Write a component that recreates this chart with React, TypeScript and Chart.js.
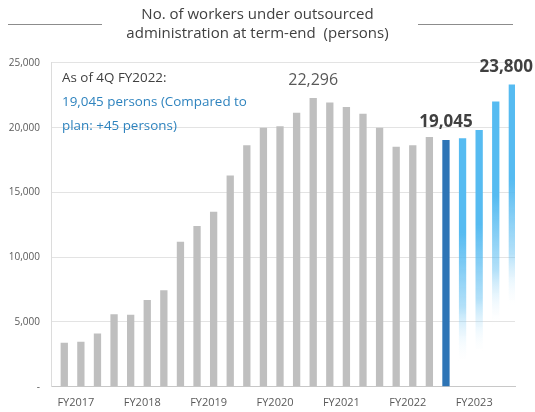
import React, { useEffect, useRef } from 'react';
import { Chart, registerables } from 'chart.js';

Chart.register(...registerables);

const FONT = '"Open Sans", "Noto Sans", sans-serif';

const quarters = [
  '1Q FY2017', '2Q FY2017', '3Q FY2017', '4Q FY2017',
  '1Q FY2018', '2Q FY2018', '3Q FY2018', '4Q FY2018',
  '1Q FY2019', '2Q FY2019', '3Q FY2019', '4Q FY2019',
  '1Q FY2020', '2Q FY2020', '3Q FY2020', '4Q FY2020',
  '1Q FY2021', '2Q FY2021', '3Q FY2021', '4Q FY2021',
  '1Q FY2022', '2Q FY2022', '3Q FY2022', '4Q FY2022',
  '1Q FY2023', '2Q FY2023', '3Q FY2023', '4Q FY2023',
];

const workers = [
  3400, 3480, 4100, 5600,
  5550, 6700, 7450, 11200,
  12400, 13500, 16300, 18650,
  20000, 20100, 21150, 22296,
  21950, 21600, 21080, 20000,
  18520, 18650, 19270, 19045,
  19190, 19810, 22020, 23330,
];

// 'actual' = results, 'latest' = 4Q FY2022 result, 'plan' = FY2023 plan
const barKinds = [
  'actual', 'actual', 'actual', 'actual',
  'actual', 'actual', 'actual', 'actual',
  'actual', 'actual', 'actual', 'actual',
  'actual', 'actual', 'actual', 'actual',
  'actual', 'actual', 'actual', 'actual',
  'actual', 'actual', 'actual', 'latest',
  'plan', 'plan', 'plan', 'plan',
];

const xTickLabels = ['FY2017', 'FY2018', 'FY2019', 'FY2020', 'FY2021', 'FY2022', 'FY2023'];

const calloutIndices = [15, 23, 27];
const calloutTexts = ['22,296', '19,045', '23,800'];
const calloutBold = [false, true, true];

const titleLines = ['No. of workers under outsourced', 'administration at term-end  (persons)'];
const noteLines = ['As of 4Q FY2022:', '19,045 persons (Compared to', 'plan: +45 persons)'];

const GRAY = '#bfbfbf';
const DARK_BLUE = '#2e75b6';
const LIGHT_BLUE = '#56bbf1';

export default function App() {
  const canvasRef = useRef<HTMLCanvasElement | null>(null);

  useEffect(() => {
    if (!canvasRef.current) return;

    const decorPlugin = {
      id: 'decor',
      afterDraw(chart: any) {
        const ctx = chart.ctx;
        ctx.save();
        ctx.strokeStyle = '#8c8c8c';
        ctx.lineWidth = 1;
        ctx.beginPath();
        ctx.moveTo(8, 24.5);
        ctx.lineTo(102, 24.5);
        ctx.moveTo(418, 24.5);
        ctx.lineTo(513, 24.5);
        ctx.stroke();
        ctx.restore();
      },
    };

    const notePlugin = {
      id: 'note',
      afterDatasetsDraw(chart: any) {
        const ctx = chart.ctx;
        const area = chart.chartArea;
        ctx.save();
        ctx.font = `13.4px ${FONT}`;
        ctx.textAlign = 'left';
        ctx.textBaseline = 'middle';
        noteLines.forEach((line, i) => {
          ctx.fillStyle = i === 0 ? '#404040' : '#2e83be';
          ctx.fillText(line, area.left + 11, area.top + 15 + i * 24.3);
        });
        ctx.restore();
      },
    };

    const calloutPlugin = {
      id: 'callouts',
      afterDatasetsDraw(chart: any) {
        const ctx = chart.ctx;
        const meta = chart.getDatasetMeta(0);
        ctx.save();
        ctx.textBaseline = 'middle';
        ctx.textAlign = 'center';
        calloutIndices.forEach((idx, k) => {
          const el = meta.data[idx];
          if (!el) return;
          ctx.font = calloutBold[k] ? `bold 17px ${FONT}` : `16px ${FONT}`;
          ctx.fillStyle = calloutBold[k] ? '#404040' : '#595959';
          const w = ctx.measureText(calloutTexts[k]).width;
          let x = el.x;
          if (x + w / 2 > chart.width - 2) x = chart.width - 2 - w / 2;
          ctx.fillText(calloutTexts[k], x, el.y - 17.5);
        });
        ctx.restore();
      },
    };

    const chart = new Chart(canvasRef.current, {
      type: 'bar',
      data: {
        labels: quarters,
        datasets: [
          {
            label: 'Workers',
            data: workers.map((v, i) => ({ x: i, y: v })),
            backgroundColor: (c: any) => {
              if (c.type !== 'data') return GRAY;
              const kind = barKinds[c.dataIndex];
              if (kind === 'actual') return GRAY;
              if (kind === 'latest') return DARK_BLUE;
              const ys = c.chart.scales && c.chart.scales.y;
              if (!ys) return LIGHT_BLUE;
              const top = ys.getPixelForValue(workers[c.dataIndex]);
              const g = c.chart.ctx.createLinearGradient(0, top, 0, top + 225);
              g.addColorStop(0, LIGHT_BLUE);
              g.addColorStop(0.42, LIGHT_BLUE);
              g.addColorStop(0.75, 'rgba(86,187,241,0.45)');
              g.addColorStop(1, 'rgba(255,255,255,0)');
              return g;
            },
            borderWidth: 0,
            categoryPercentage: 1,
            barPercentage: 0.44,
          },
        ],
      },
      options: {
        animation: false,
        responsive: true,
        maintainAspectRatio: false,
        layout: { padding: { top: 0, left: 0, right: 20, bottom: 2 } },
        plugins: {
          legend: { display: false },
          tooltip: { enabled: false },
          title: {
            display: true,
            text: titleLines,
            color: '#404040',
            font: { family: FONT, size: 15, weight: 'normal', lineHeight: 1.23 },
            padding: { top: 6, bottom: 20 },
          },
        },
        scales: {
          x: {
            type: 'linear',
            offset: false,
            min: -0.8,
            max: 27.16,
            grid: { display: false, drawTicks: false, tickLength: 0, offset: false },
            border: { display: true, color: '#c8c8c8', width: 1 },
            afterBuildTicks: (scale: any) => {
              scale.ticks = xTickLabels.map((_, k) => ({ value: 0.7 + 4 * k }));
            },
            afterFit: (scale: any) => {
              scale.height = 23.3;
            },
            ticks: {
              autoSkip: false,
              maxRotation: 0,
              padding: 10,
              color: '#595959',
              font: { family: FONT, size: 11 },
              callback: (_v: any, index: number) => xTickLabels[index],
            },
          },
          y: {
            min: 0,
            max: 25000,
            afterFit: (scale: any) => {
              scale.width = 51;
            },
            grid: { color: '#e3e3e3', drawTicks: false, tickLength: 0 },
            border: { display: true, color: '#dcdcdc', width: 1 },
            ticks: {
              stepSize: 5000,
              padding: 11,
              color: '#595959',
              font: { family: FONT, size: 10 },
              callback: (v: any) => (Number(v) === 0 ? '-' : Number(v).toLocaleString('en-US')),
            },
          },
        },
      },
      plugins: [decorPlugin, notePlugin, calloutPlugin],
    } as any);

    return () => chart.destroy();
  }, []);

  return (
    <div style={{ position: 'fixed', left: 0, top: 0, width: 535, height: 412, background: '#fff' }}>
      <canvas ref={canvasRef} />
    </div>
  );
}
